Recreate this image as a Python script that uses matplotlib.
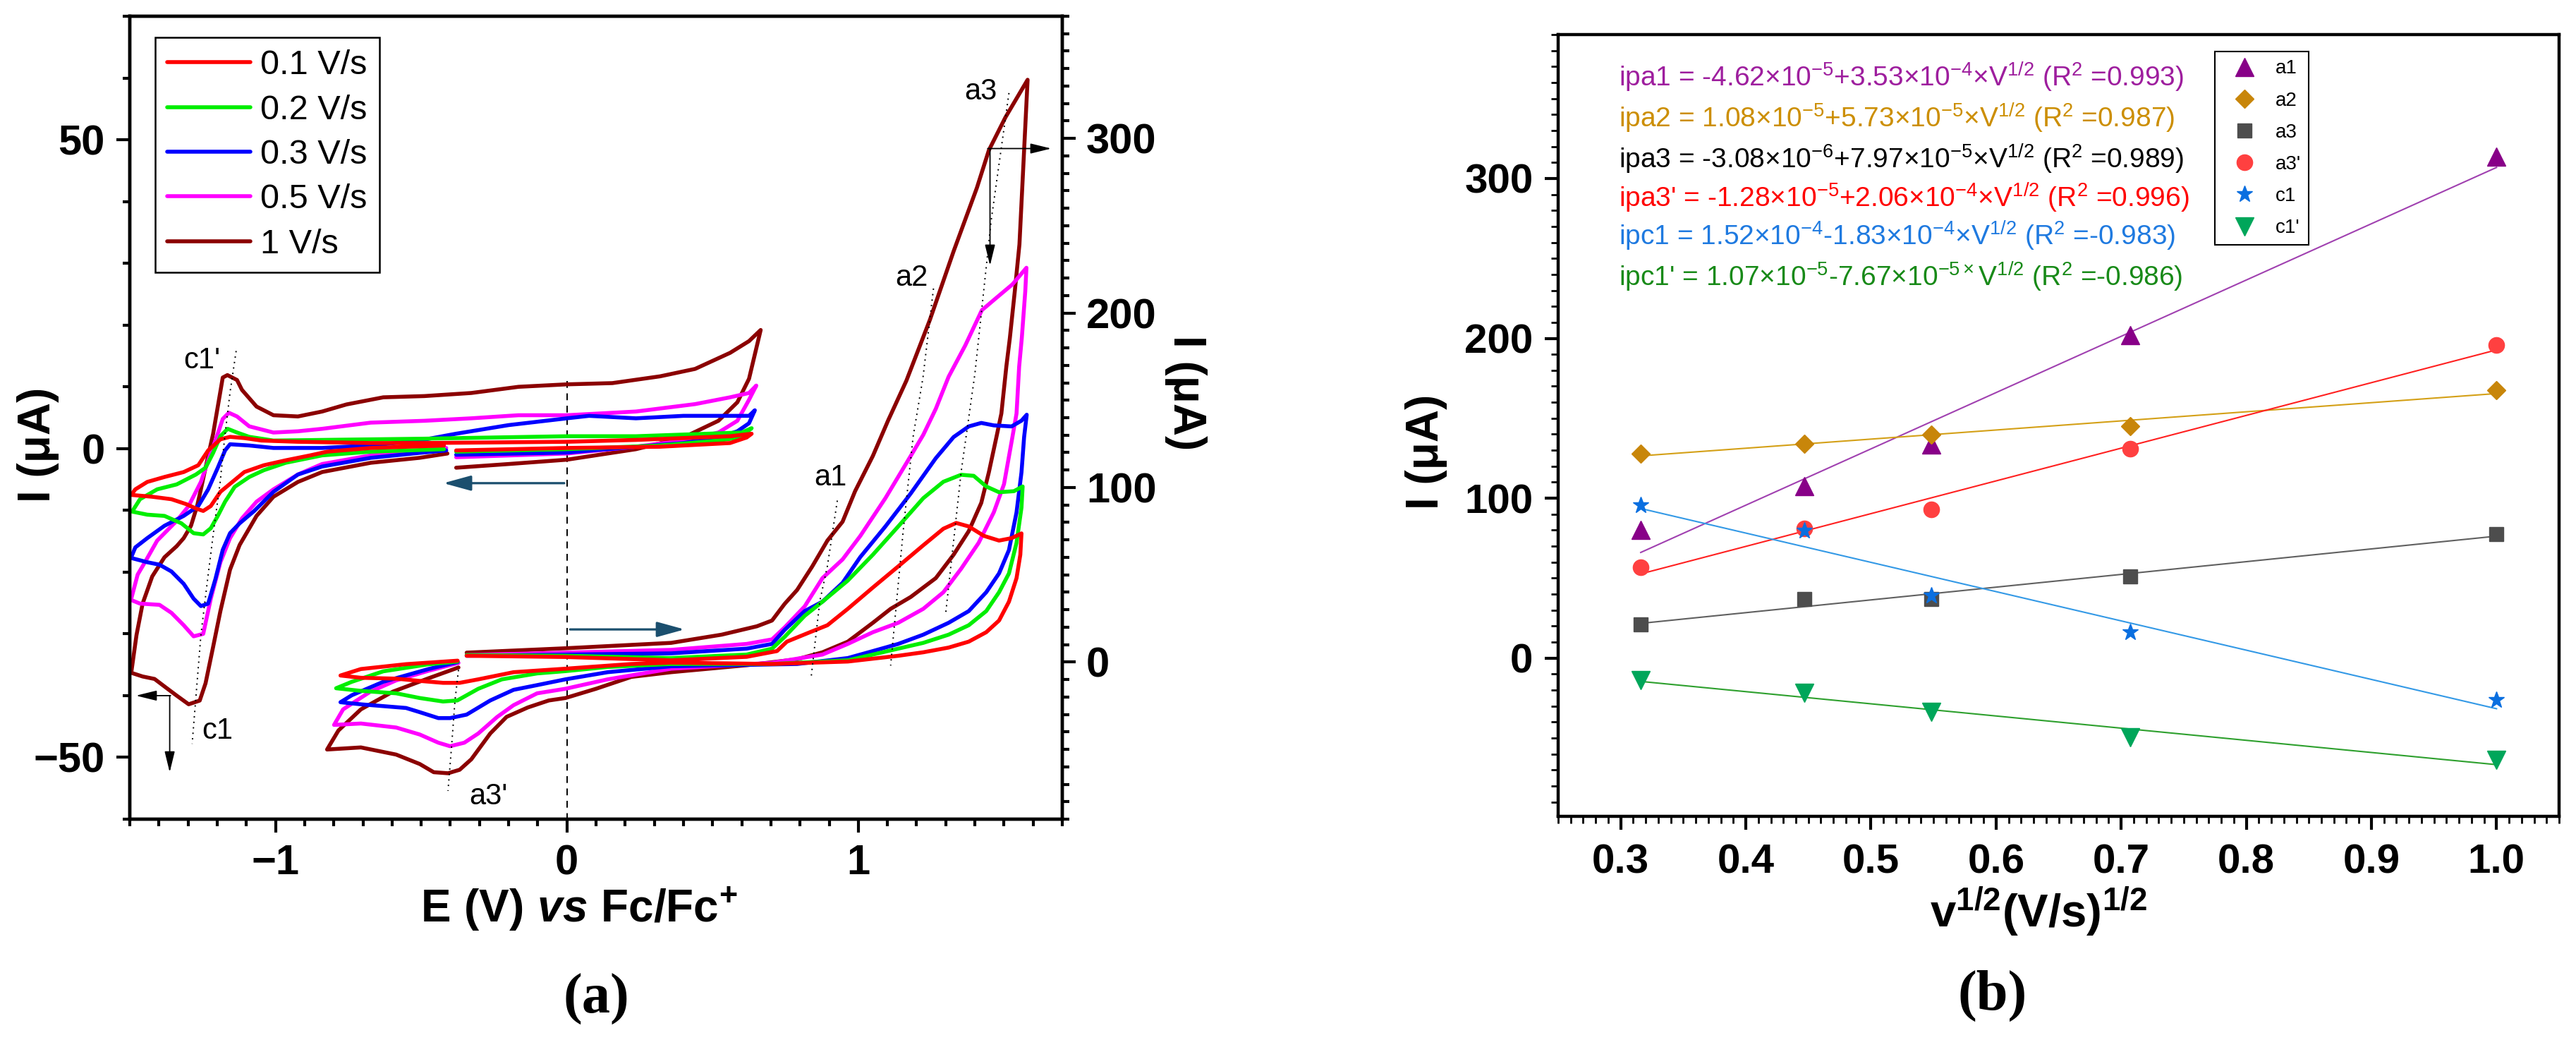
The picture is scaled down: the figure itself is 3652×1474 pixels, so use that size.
import numpy as np
import matplotlib
matplotlib.use("Agg")
import matplotlib.pyplot as plt
from matplotlib.ticker import MultipleLocator

plt.rcParams['font.family'] = ['Liberation Sans', 'DejaVu Sans']
plt.rcParams['mathtext.fontset'] = 'custom'
plt.rcParams['mathtext.rm'] = 'Liberation Sans'
plt.rcParams['mathtext.it'] = 'Liberation Sans:italic:bold'
plt.rcParams['mathtext.bf'] = 'Liberation Sans:bold'
plt.rcParams['axes.unicode_minus'] = True

# ======================= DATA : panel (a) =======================
scan_rates = ["0.1 V/s", "0.2 V/s", "0.3 V/s", "0.5 V/s", "1 V/s"]
cv_colors = ["#FF0000", "#00EE00", "#0000FF", "#FF00FF", "#8B0000"]

# cathodic window (left axis, I in uA), (E vs Fc/Fc+, I)
cat_01 = [(-0.38,-0.3),(0.0,0.1),(0.32,0.3),(0.56,0.9),(0.617,1.8),(0.634,2.4),
          (0.56,2.0),(0.237,1.4),(0.0,1.1),(-0.489,0.9),(-0.673,0.9),(-0.923,1.1),(-1.048,1.3),
          (-1.107,1.7),(-1.156,1.9),(-1.189,1.5),(-1.231,-0.3),(-1.265,-2.7),(-1.315,-3.8),
          (-1.381,-4.6),(-1.44,-5.4),(-1.481,-6.6),(-1.495,-7.5),
          (-1.423,-7.8),(-1.357,-8.2),(-1.306,-9.0),(-1.273,-9.7),(-1.248,-10.1),(-1.222,-9.3),
          (-1.189,-7.0),(-1.148,-5.4),(-1.107,-3.8),(-1.04,-2.7),(-0.965,-1.9),(-0.881,-1.1),
          (-0.823,-0.5),(-0.673,0.1),(-0.422,0.5)]
cat_02 = [(-0.38,-0.5),(0.0,-0.1),(0.32,0.5),(0.52,1.3),(0.594,1.8),(0.634,3.3),
          (0.60,2.6),(0.48,2.4),(0.237,2.0),(0.0,2.0),(-0.247,1.8),(-0.489,1.6),(-0.84,1.4),
          (-1.007,1.3),(-1.09,1.9),(-1.132,2.6),(-1.164,3.2),(-1.189,2.0),(-1.214,-0.7),
          (-1.24,-3.1),(-1.273,-4.2),(-1.339,-5.8),(-1.406,-6.6),(-1.465,-8.2),(-1.492,-10.2),
          (-1.44,-10.7),(-1.381,-10.9),(-1.323,-12.1),(-1.281,-13.7),(-1.248,-13.9),(-1.222,-12.9),
          (-1.198,-10.9),(-1.173,-8.6),(-1.14,-6.2),(-1.09,-4.6),(-1.04,-3.5),(-0.965,-2.3),
          (-0.84,-1.1),(-0.673,-0.5),(-0.422,-0.1)]
cat_03 = [(-0.38,-1.0),(0.0,-0.65),(0.237,0.3),(0.40,0.9),(0.52,1.8),(0.585,2.8),(0.625,4.1),(0.645,6.2),
          (0.625,5.3),(0.56,5.3),(0.40,5.3),(0.237,4.9),(0.076,5.3),(0.0,4.9),(-0.2,3.8),(-0.381,2.4),
          (-0.506,1.3),(-0.673,0.5),(-0.84,0.1),(-1.007,0.1),(-1.09,0.5),(-1.156,0.7),(-1.173,-0.3),
          (-1.198,-3.1),(-1.231,-6.6),(-1.265,-9.3),(-1.315,-10.9),(-1.381,-12.5),(-1.44,-14.5),
          (-1.481,-16.0),(-1.496,-17.7),
          (-1.44,-18.4),(-1.398,-18.8),(-1.357,-19.9),(-1.315,-21.9),(-1.281,-24.3),(-1.256,-25.5),
          (-1.231,-25.1),(-1.206,-21.1),(-1.181,-16.4),(-1.156,-13.7),(-1.123,-12.1),(-1.073,-10.1),
          (-1.007,-7.0),(-0.923,-4.2),(-0.84,-2.9),(-0.673,-1.5),(-0.506,-0.7),(-0.414,-0.3)]
cat_05 = [(-0.38,-1.4),(0.0,-0.8),(0.237,0.3),(0.40,1.3),(0.52,2.6),(0.585,4.5),(0.625,7.9),(0.65,10.2),
          (0.625,9.0),(0.56,8.3),(0.44,7.2),(0.237,6.0),(0.0,5.4),(-0.166,5.4),(-0.328,4.9),(-0.489,4.5),
          (-0.673,4.2),(-0.84,3.2),(-0.923,2.8),(-1.007,2.6),(-1.09,3.6),(-1.132,5.2),(-1.16,5.8),
          (-1.181,4.8),(-1.198,2.4),(-1.222,-0.7),(-1.256,-5.4),(-1.298,-9.3),(-1.339,-11.7),
          (-1.406,-14.9),(-1.448,-18.4),(-1.473,-20.4),(-1.496,-24.5),
          (-1.465,-25.1),(-1.398,-25.3),(-1.357,-26.6),(-1.315,-28.6),(-1.281,-30.4),(-1.248,-30.0),
          (-1.222,-24.3),(-1.189,-18.4),(-1.156,-14.5),(-1.115,-11.3),(-1.065,-8.6),(-1.007,-6.6),
          (-0.923,-4.2),(-0.84,-2.5),(-0.673,-1.1),(-0.506,-0.3),(-0.414,0.1)]
cat_10 = [(-0.38,-3.1),(-0.2,-2.5),(0.0,-1.8),(0.237,-0.1),(0.40,1.8),(0.52,4.5),(0.585,7.5),(0.625,11.3),(0.665,19.2),
          (0.625,17.4),(0.56,15.5),(0.44,12.9),(0.32,11.7),(0.156,10.6),(0.0,10.4),(-0.166,10.0),(-0.328,9.0),
          (-0.489,8.5),(-0.63,8.3),(-0.756,7.15),(-0.84,6.0),(-0.923,5.2),(-1.007,5.4),(-1.065,6.8),
          (-1.115,9.5),(-1.132,11.1),(-1.165,11.9),(-1.181,11.5),(-1.19,9.0),(-1.214,2.4),(-1.24,-3.1),
          (-1.256,-6.6),(-1.269,-9.3),(-1.29,-12.5),(-1.315,-14.5),(-1.339,-15.8),(-1.381,-17.6),
          (-1.423,-20.7),(-1.456,-25.1),(-1.477,-30.2),(-1.495,-36.3),
          (-1.456,-36.9),(-1.415,-37.3),(-1.373,-38.8),(-1.339,-40.0),(-1.298,-41.4),(-1.26,-40.8),
          (-1.24,-38.0),(-1.214,-32.1),(-1.189,-26.3),(-1.156,-19.6),(-1.123,-15.6),(-1.065,-10.9),
          (-1.007,-7.8),(-0.923,-5.4),(-0.84,-3.8),(-0.673,-2.3),(-0.506,-1.5),(-0.41,-0.8)]

# anodic window (right axis, I in uA)
an_01 = [(-0.344,3.6),(-0.005,2.9),(0.358,1.0),(0.617,3.0),(0.721,6.3),(0.755,11.7),(0.834,17.1),
         (0.894,21.1),(0.964,30.5),(1.05,42.7),(1.137,54.8),(1.223,66.9),(1.292,76.4),(1.336,79.7),
         (1.379,77.7),(1.431,72.3),(1.483,69.6),(1.526,71.0),(1.56,73.7),
         (1.556,61.5),(1.543,48.1),(1.517,34.6),(1.483,23.8),(1.439,17.1),(1.379,11.7),(1.31,8.3),
         (1.223,5.6),(1.137,3.6),(0.964,0.3),(0.704,-1.1),(0.358,-0.3),(0.221,-1.1),(-0.005,-3.8),
         (-0.183,-5.8),(-0.304,-9.9),(-0.368,-11.9),(-0.425,-11.9),(-0.505,-10.8),(-0.586,-9.5),
         (-0.707,-9.0),(-0.777,-7.7),
         (-0.707,-4.0),(-0.552,-1.2),(-0.375,0.8)]
an_02 = [(-0.344,4.0),(-0.005,3.6),(0.358,2.3),(0.617,4.3),(0.704,7.7),(0.747,14.4),(0.816,26.5),
         (0.877,34.6),(0.964,46.7),(1.05,61.5),(1.137,77.7),(1.223,93.9),(1.292,103.3),(1.353,107.3),
         (1.396,106.7),(1.439,100.6),(1.483,97.3),(1.534,97.9),(1.564,100.6),
         (1.56,88.5),(1.543,68.3),(1.517,50.8),(1.483,40.0),(1.439,29.2),(1.379,21.1),(1.31,15.7),
         (1.223,11.0),(1.137,7.7),(1.05,4.3),(0.964,1.0),(0.704,-1.1),(0.358,-1.1),(0.14,-2.8),
         (-0.005,-5.2),(-0.102,-6.5),(-0.223,-9.9),(-0.304,-15.3),(-0.376,-22.0),(-0.425,-22.6),
         (-0.505,-20.6),(-0.586,-17.9),(-0.707,-16.5),(-0.792,-15.0),
         (-0.738,-11.3),(-0.63,-5.3),(-0.475,-1.3),(-0.375,0.3)]
an_03 = [(-0.344,3.6),(-0.005,4.3),(0.358,5.0),(0.617,7.7),(0.704,10.4),(0.747,18.4),(0.816,29.2),
         (0.877,34.6),(0.946,45.4),(1.007,60.2),(1.093,77.7),(1.18,96.6),(1.266,116.8),(1.327,128.9),
         (1.379,135.0),(1.422,137.0),(1.465,135.6),(1.526,135.0),(1.56,138.3),(1.578,141.7),
         (1.569,128.9),(1.56,108.7),(1.543,85.8),(1.517,64.2),(1.483,50.8),(1.439,40.0),(1.379,29.2),
         (1.31,22.5),(1.223,15.7),(1.137,10.4),(1.05,6.3),(0.964,2.3),(0.79,-1.1),(0.358,-2.4),
         (0.14,-5.8),(-0.005,-9.9),(-0.102,-13.2),(-0.183,-15.9),(-0.263,-22.0),(-0.344,-30.1),
         (-0.401,-32.1),(-0.441,-32.1),(-0.505,-28.7),(-0.552,-26.3),(-0.707,-24.2),(-0.777,-23.0),
         (-0.738,-19.0),(-0.63,-11.3),(-0.475,-4.0),(-0.375,0.0)]
an_05 = [(-0.344,4.0),(-0.005,5.4),(0.358,7.0),(0.617,10.4),(0.704,13.0),(0.747,19.8),(0.816,31.9),
         (0.877,48.1),(0.946,58.8),(1.007,72.3),(1.093,93.9),(1.18,118.1),(1.223,130.2),(1.266,145.1),
         (1.31,163.5),(1.367,181.4),(1.424,201.6),(1.472,208.4),(1.529,216.4),(1.577,225.9),
         (1.573,212.4),(1.561,185.5),(1.552,169.3),(1.543,142.4),(1.526,126.2),(1.5,101.9),(1.465,85.8),
         (1.413,68.3),(1.353,53.5),(1.292,40.0),(1.223,30.5),(1.137,22.5),(1.05,17.1),(0.964,10.4),
         (0.877,4.3),(0.704,-0.4),(0.358,-3.8),(0.14,-9.9),(-0.005,-15.3),(-0.102,-17.9),(-0.183,-24.7),
         (-0.239,-31.4),(-0.304,-40.9),(-0.352,-46.2),(-0.401,-48.2),(-0.441,-46.2),(-0.505,-41.5),
         (-0.586,-37.5),(-0.707,-35.2),(-0.799,-36.0),
         (-0.768,-27.1),(-0.675,-17.0),(-0.586,-10.5),(-0.475,-5.0),(-0.372,-0.5)]
an_10 = [(-0.344,5.4),(-0.005,7.9),(0.358,11.0),(0.531,15.7),(0.652,20.5),(0.704,23.8),(0.747,33.3),
         (0.79,41.3),(0.842,54.8),(0.894,69.6),(0.946,80.4),(0.989,97.9),(1.05,118.1),(1.102,138.3),
         (1.165,161.2),(1.246,196.2),(1.327,235.3),(1.407,271.7),(1.448,293.2),(1.505,312.1),(1.581,333.6),
         (1.569,293.2),(1.553,239.3),(1.537,212.4),(1.52,185.5),(1.508,169.3),(1.491,142.4),(1.474,128.9),
         (1.448,108.7),(1.422,91.2),(1.379,75.0),(1.327,61.5),(1.266,48.1),(1.18,37.3),(1.111,30.5),
         (1.05,22.5),(0.964,11.7),(0.877,5.6),(0.79,1.6),(0.617,-1.8),(0.358,-5.8),(0.221,-8.5),
         (0.1,-15.3),(-0.005,-20.6),(-0.062,-22.0),(-0.134,-26.0),(-0.207,-31.4),(-0.263,-40.9),
         (-0.328,-55.7),(-0.368,-61.7),(-0.408,-63.7),(-0.457,-63.1),(-0.505,-58.4),(-0.586,-53.0),
         (-0.707,-48.9),(-0.823,-50.1),
         (-0.784,-39.2),(-0.707,-27.1),(-0.598,-17.0),(-0.475,-9.3),(-0.372,-3.1)]

cat_curves = [cat_01, cat_02, cat_03, cat_05, cat_10]
an_curves = [an_01, an_02, an_03, an_05, an_10]

left_yticks = [-50, 0, 50]
left_ytick_labels = ["\u221250", "0", "50"]
left_xticks = [-1, 0, 1]
left_xtick_labels = ["\u22121", "0", "1"]
right_yticks = [0, 100, 200, 300]
right_ytick_labels = ["0", "100", "200", "300"]

# ======================= DATA : panel (b) =======================
sqrt_v = [0.316, 0.447, 0.548, 0.707, 1.0]
ip_a1 = [80.0, 107.5, 133.5, 202.0, 313.6]
ip_a2 = [128.0, 134.0, 139.6, 145.2, 167.5]
ip_a3 = [21.0, 36.8, 36.8, 51.0, 77.6]
ip_a3p = [57.0, 81.0, 93.0, 130.8, 196.0]
ip_c1 = [95.7, 79.8, 39.0, 16.3, -26.3]
ip_c1p = [-13.7, -21.6, -33.9, -49.6, -63.7]
peak_names = ["a1", "a2", "a3", "a3'", "c1", "c1'"]
peak_series = [ip_a1, ip_a2, ip_a3, ip_a3p, ip_c1, ip_c1p]
marker_colors = ["#880088", "#C8860A", "#4D4D4D", "#FF4040", "#0A6FE0", "#00A65A"]
fit_colors = ["#A040B0", "#D4A017", "#606060", "#FF2020", "#3399E6", "#2EA02E"]
marker_shapes = ["^", "D", "s", "o", "*", "v"]
marker_sizes = [19, 13, 14, 16, 17, 19]

eq_texts = [
    "ipa1 = -4.62\u00d710$^{-5}$+3.53\u00d710$^{-4}$\u00d7V$^{1/2}$ (R$^{2}$ =0.993)",
    "ipa2 = 1.08\u00d710$^{-5}$+5.73\u00d710$^{-5}$\u00d7V$^{1/2}$ (R$^{2}$ =0.987)",
    "ipa3 = -3.08\u00d710$^{-6}$+7.97\u00d710$^{-5}$\u00d7V$^{1/2}$ (R$^{2}$ =0.989)",
    "ipa3' = -1.28\u00d710$^{-5}$+2.06\u00d710$^{-4}$\u00d7V$^{1/2}$ (R$^{2}$ =0.996)",
    "ipc1 = 1.52\u00d710$^{-4}$-1.83\u00d710$^{-4}$\u00d7V$^{1/2}$ (R$^{2}$ =-0.983)",
    "ipc1' = 1.07\u00d710$^{-5}$-7.67\u00d710$^{-5\\times}$V$^{1/2}$ (R$^{2}$ =-0.986)",
]
eq_colors = ["#9E1E9E", "#CC8E00", "#000000", "#FF0000", "#1F7AE0", "#188A18"]
b_xticks = [0.3, 0.4, 0.5, 0.6, 0.7, 0.8, 0.9, 1.0]
b_xtick_labels = ["0.3", "0.4", "0.5", "0.6", "0.7", "0.8", "0.9", "1.0"]
b_yticks = [0, 100, 200, 300]
b_ytick_labels = ["0", "100", "200", "300"]

# ======================= FIGURE =======================
W, H = 3652, 1474
fig = plt.figure(figsize=(W / 100, H / 100), dpi=100)


def rect(l, t, r, b):
    return [l / W, 1 - b / H, (r - l) / W, (b - t) / H]


ax = fig.add_axes(rect(184, 23, 1506, 1161))
ax2 = ax.twinx()
bx = fig.add_axes(rect(2209, 49, 3628, 1157))

# ---------------- panel (a) ----------------
handles = [None] * len(scan_rates)
for i in reversed(range(len(scan_rates))):
    c = np.asarray(cat_curves[i])
    a = np.asarray(an_curves[i])
    h, = ax.plot(c[:, 0], c[:, 1], color=cv_colors[i], lw=4.0,
                 solid_joinstyle='round', solid_capstyle='round')
    ax2.plot(a[:, 0], a[:, 1], color=cv_colors[i], lw=4.0,
             solid_joinstyle='round', solid_capstyle='round')
    handles[i] = h

ax.set_xlim(-1.5, 1.7)
ax.set_ylim(-60, 70)
ax2.set_ylim(-90, 370)

ax.set_xticks(left_xticks, labels=left_xtick_labels, fontweight='bold')
ax.set_yticks(left_yticks, labels=left_ytick_labels, fontweight='bold')
ax2.set_yticks(right_yticks, labels=right_ytick_labels, fontweight='bold')
ax.xaxis.set_minor_locator(MultipleLocator(0.1))
ax.yaxis.set_minor_locator(MultipleLocator(10))
ax2.yaxis.set_minor_locator(MultipleLocator(10))

for a_ in (ax, ax2, bx):
    for s in a_.spines.values():
        s.set_linewidth(3.2)

ax.tick_params(which='major', direction='out', length=13.5, width=3, labelsize=43)
ax.tick_params(which='minor', direction='out', length=7, width=3)
ax.tick_params(axis='x', which='both', top=False, pad=12)
ax.tick_params(axis='y', which='both', right=False, pad=12)
ax2.tick_params(which='major', direction='out', length=13.5, width=3, labelsize=43, pad=11)
ax2.tick_params(which='minor', direction='out', length=7, width=3)

# guides
ax.plot([0, 0], [10.9, -60], color='black', lw=1.4, ls=(0, (5, 4)), zorder=1)
c_guide = np.array([(-1.135, 15.8), (-1.156, 9.1), (-1.175, 1.5), (-1.19, -5.5), (-1.21, -12.5),
                    (-1.231, -20.4), (-1.256, -30.2), (-1.286, -47.8)])
ax.plot(c_guide[:, 0], c_guide[:, 1], color='black', lw=1.4, ls=(0, (1, 3)))
for g in ([(-0.372, -4.5), (-0.384, -22.0), (-0.396, -48.9), (-0.408, -73.8)],
          [(0.928, 92.5), (0.894, 55), (0.868, 35), (0.838, -9)],
          [(1.258, 214), (1.222, 163), (1.188, 129), (1.154, 75), (1.111, -2)],
          [(1.517, 326), (1.456, 253), (1.40, 165), (1.353, 109), (1.30, 28)]):
    g = np.array(g)
    ax2.plot(g[:, 0], g[:, 1], color='black', lw=1.4, ls=(0, (1, 3)))

blk = dict(arrowstyle='-|>,head_length=0.9,head_width=0.22', color='black', lw=1.3,
           shrinkA=0, shrinkB=0, mutation_scale=20)
ax.annotate('', xy=(-1.479, -40.0), xytext=(-1.36, -40.0), arrowprops=blk)
ax.annotate('', xy=(-1.363, -52.4), xytext=(-1.363, -40.0), arrowprops=blk)
ax2.annotate('', xy=(1.662, 294.2), xytext=(1.444, 294.2), arrowprops=blk)
ax2.annotate('', xy=(1.452, 227.2), xytext=(1.452, 294.2), arrowprops=blk)
teal = dict(arrowstyle='-|>,head_length=0.8,head_width=0.22', color='#1B4F6E', lw=2.3,
            shrinkA=0, shrinkB=0, mutation_scale=30)
ax.annotate('', xy=(-0.424, -5.6), xytext=(-0.009, -5.6), arrowprops=teal)
ax2.annotate('', xy=(0.404, 18.7), xytext=(0.011, 18.7), arrowprops=teal)

ax.text(-1.252, 14.2, "c1'", fontsize=30, ha='center', va='center')
ax.text(-1.20, -45.7, "c1", fontsize=30, ha='center', va='center')
ax.text(-0.269, -56.3, "a3'", fontsize=30, ha='center', va='center')
ax2.text(0.905, 105.7, "a1", fontsize=30, ha='center', va='center')
ax2.text(1.182, 220.2, "a2", fontsize=30, ha='center', va='center')
ax2.text(1.42, 326.6, "a3", fontsize=30, ha='center', va='center')

leg = ax2.legend(handles, scan_rates, loc='upper left', bbox_to_anchor=(0.027, 0.9736),
                 fontsize=35, handlelength=2.43, handletextpad=0.3, borderpad=0.35,
                 labelspacing=0.38, fancybox=False, edgecolor='black', framealpha=1,
                 borderaxespad=0)
leg.get_frame().set_linewidth(1.8)

ax.set_ylabel("I (\u03bcA)", fontsize=46, fontweight='bold')
ax.yaxis.set_label_coords(-0.0983, 0.4666)
ax.yaxis.label.set_va('center')
ax2.set_ylabel("I (\u03bcA)", fontsize=46, fontweight='bold', rotation=270)
ax2.yaxis.set_label_coords(1.1324, 0.5308)
ax2.yaxis.label.set_va('center')
ax.set_xlabel(r"$\mathbf{E\ (V)}\ \mathit{vs}\ \mathbf{Fc/Fc^{+}}$", fontsize=46)
ax.xaxis.set_label_coords(0.4818, -0.1125)
ax.xaxis.label.set_va('center')

# ---------------- panel (b) ----------------
x = np.asarray(sqrt_v)
for name, ys, mc, lc, mk, ms in zip(peak_names, peak_series, marker_colors, fit_colors,
                                    marker_shapes, marker_sizes):
    ys = np.asarray(ys)
    k, b0 = np.polyfit(x, ys, 1)
    xs = np.array([x.min(), x.max()])
    bx.plot(xs, k * xs + b0, color=lc, lw=1.5, zorder=2)
    bx.plot(x, ys, ls='none', marker=mk, ms=ms, color=mc, mec=mc, label=name, zorder=3)

bx.set_xlim(0.25, 1.05)
bx.set_ylim(-99, 390)
bx.set_xticks(b_xticks, labels=b_xtick_labels, fontweight='bold')
bx.set_yticks(b_yticks, labels=b_ytick_labels, fontweight='bold')
bx.xaxis.set_minor_locator(MultipleLocator(0.01))
bx.yaxis.set_minor_locator(MultipleLocator(10))
bx.tick_params(which='major', direction='out', length=14, width=3, labelsize=42)
bx.tick_params(which='minor', direction='out', length=7, width=2)
bx.tick_params(axis='x', which='both', top=False, pad=14)
bx.tick_params(axis='y', which='both', right=False, pad=11.5)

for i, (t, col) in enumerate(zip(eq_texts, eq_colors)):
    yf = [0.945, 0.8935, 0.841, 0.7915, 0.742, 0.690][i]
    bx.text(0.0606, yf, t, transform=bx.transAxes, color=col, fontsize=28,
            ha='left', va='center')

legb = bx.legend(loc='upper left', bbox_to_anchor=(0.656, 0.978), fontsize=20,
                 handlelength=2.2, handletextpad=0.5, borderpad=0.4, labelspacing=0.69,
                 fancybox=False, edgecolor='black', framealpha=1, borderaxespad=0,
                 numpoints=1)
legb.get_frame().set_linewidth(1.5)

bx.set_ylabel("I (\u03bcA)", fontsize=46, fontweight='bold')
bx.yaxis.set_label_coords(-0.1318, 0.4666)
bx.yaxis.label.set_va('center')
bx.set_xlabel(r"$\mathbf{v^{1/2}(V/s)^{1/2}}$", fontsize=47)
bx.xaxis.set_label_coords(0.48, -0.1218)
bx.xaxis.label.set_va('center')

fig.text(845 / W, 1 - 1416 / H, "(a)", ha='center', va='center', fontsize=58,
         fontfamily='Liberation Serif', fontweight='bold')
fig.text(2825 / W, 1 - 1411 / H, "(b)", ha='center', va='center', fontsize=58,
         fontfamily='Liberation Serif', fontweight='bold')

fig.savefig("out.png", dpi=100)
